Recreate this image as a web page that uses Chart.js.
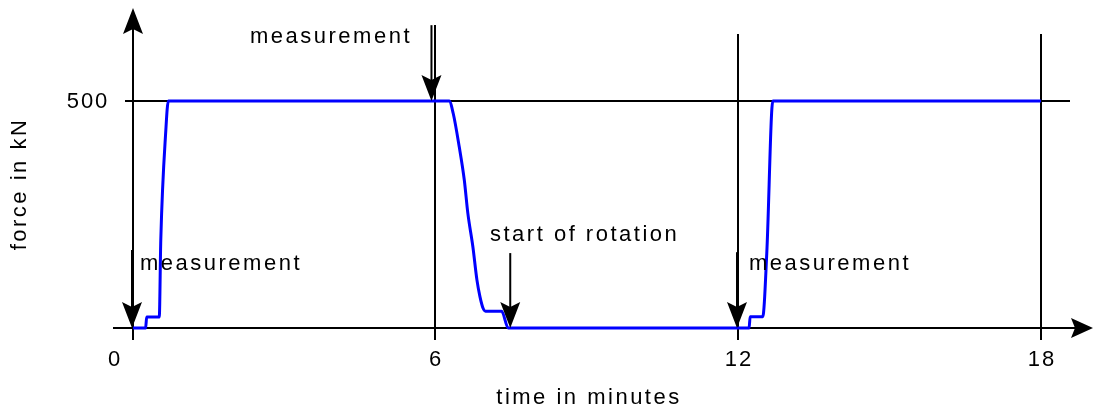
<!DOCTYPE html>
<html>
<head>
<meta charset="utf-8">
<script src="https://cdn.jsdelivr.net/npm/chart.js@4/dist/chart.umd.min.js"></script>
<style>
  html, body { margin: 0; padding: 0; background: #fff; }
  #wrap { width: 1094px; height: 412px; }
</style>
</head>
<body>
<div id="wrap"><canvas id="forceChart"></canvas></div>
<script>
// time (minutes) and force (kN)
var times = [0.02, 0.27, 0.29, 0.54, 0.57, 0.67, 0.72, 6.28, 6.36, 6.48, 6.58, 6.65, 6.75, 6.83, 6.89, 6.95, 7.0, 7.32, 7.45, 12.22, 12.24, 12.49, 12.57, 12.69, 18.0];
var force = [0, 0, 24, 24, 194, 436, 500, 500, 473, 399, 326, 253, 179, 106, 69, 44, 37, 37, 0, 0, 25, 25, 165, 500, 500];

var xTicks = [0, 6, 12, 18];
var yTicks = [500];

// arrows: at time, from force down to force
var arrowX = [0, 5.93, 7.49, 11.98];
var arrowFrom = [172, 667, 165, 167];
var arrowTo = [0, 500, 0, 0];
var notes = ['measurement', 'measurement', 'start of rotation', 'measurement'];

var FONT = '22px "Liberation Sans", Arial, sans-serif';

function arrowHead(c, x, y, dir) {
    // dir: 'down', 'up', 'right'
    c.beginPath();
    if (dir === 'down') {
        c.moveTo(x, y); c.lineTo(x - 10, y - 26); c.lineTo(x, y - 21); c.lineTo(x + 10, y - 26);
    } else if (dir === 'up') {
        c.moveTo(x, y); c.lineTo(x - 10, y + 26); c.lineTo(x, y + 21); c.lineTo(x + 10, y + 26);
    } else {
        c.moveTo(x, y); c.lineTo(x - 22, y - 10); c.lineTo(x - 18, y); c.lineTo(x - 22, y + 10);
    }
    c.closePath();
    c.fill();
}

var decor = {
    id: 'decor',
    beforeDatasetsDraw: function (chart) {
        var c = chart.ctx, xs = chart.scales.x, ys = chart.scales.y;
        var y0 = ys.getPixelForValue(0);
        c.save();
        c.strokeStyle = '#000';
        c.fillStyle = '#000';
        c.lineWidth = 2;
        c.beginPath();
        // y axis
        var xa = xs.getPixelForValue(0) + 1;
        c.moveTo(xa, 20); c.lineTo(xa, y0 + 12);
        // x axis
        c.moveTo(113, y0); c.lineTo(1080, y0);
        // 500 line
        var y5 = ys.getPixelForValue(500);
        c.moveTo(xa - 8, y5); c.lineTo(1070, y5);
        // vertical lines at 6, 12, 18
        [[6, 25], [12, 34], [18, 34]].forEach(function (v) {
            var px = xs.getPixelForValue(v[0]);
            c.moveTo(px, v[1]); c.lineTo(px, y0 + 12);
        });
        c.stroke();
        arrowHead(c, xa, 8, 'up');
        arrowHead(c, 1093, y0, 'right');

        // tick labels
        c.font = FONT;
        c.letterSpacing = '2px';
        c.textBaseline = 'middle';
        c.textAlign = 'center';
        xTicks.forEach(function (t) {
            var px = xs.getPixelForValue(t);
            if (t === 0) px -= 18;
            c.fillText(String(t), px + 1, 360);
        });
        yTicks.forEach(function (t) {
            c.fillText(String(t), 88, ys.getPixelForValue(t) + 1);
        });
        // axis titles
        c.letterSpacing = '2.5px';
        c.fillText('time in minutes', 589, 398);
        c.save();
        c.translate(20, 184);
        c.rotate(-Math.PI / 2);
        c.fillText('force in kN', 0, 0);
        c.restore();
        c.restore();
    },
    afterDatasetsDraw: function (chart) {
        var c = chart.ctx, xs = chart.scales.x, ys = chart.scales.y;
        c.save();
        c.strokeStyle = '#000';
        c.fillStyle = '#000';
        c.lineWidth = 2;
        var notePos = [[140, 264], [250, 37], [490, 235], [749, 264]];
        for (var i = 0; i < arrowX.length; i++) {
            var px = xs.getPixelForValue(arrowX[i]);
            var top = ys.getPixelForValue(arrowFrom[i]);
            var tip = ys.getPixelForValue(arrowTo[i]);
            c.beginPath();
            c.moveTo(px, top); c.lineTo(px, tip - 18);
            c.stroke();
            arrowHead(c, px, tip, 'down');
            c.font = FONT;
            c.letterSpacing = '2.5px';
            c.textAlign = 'left';
            c.textBaseline = 'middle';
            c.fillText(notes[i], notePos[i][0], notePos[i][1]);
        }
        c.restore();
    }
};

var points = times.map(function (t, i) { return { x: t, y: force[i] }; });

new Chart(document.getElementById('forceChart').getContext('2d'), {
    type: 'line',
    data: {
        datasets: [{
            label: 'force',
            data: points,
            borderColor: '#0000ff',
            borderWidth: 3,
            pointRadius: 0,
            cubicInterpolationMode: 'monotone',
            fill: false
        }]
    },
    options: {
        responsive: true,
        maintainAspectRatio: false,
        animation: false,
        events: [],
        layout: { padding: 0 },
        plugins: { legend: { display: false }, tooltip: { enabled: false } },
        scales: {
            x: { type: 'linear', display: false, min: -132 / 50.5, max: (1094 - 132) / 50.5 },
            y: { type: 'linear', display: false, min: -84 / 0.454, max: 328 / 0.454 }
        }
    },
    plugins: [decor]
});
</script>
</body>
</html>
